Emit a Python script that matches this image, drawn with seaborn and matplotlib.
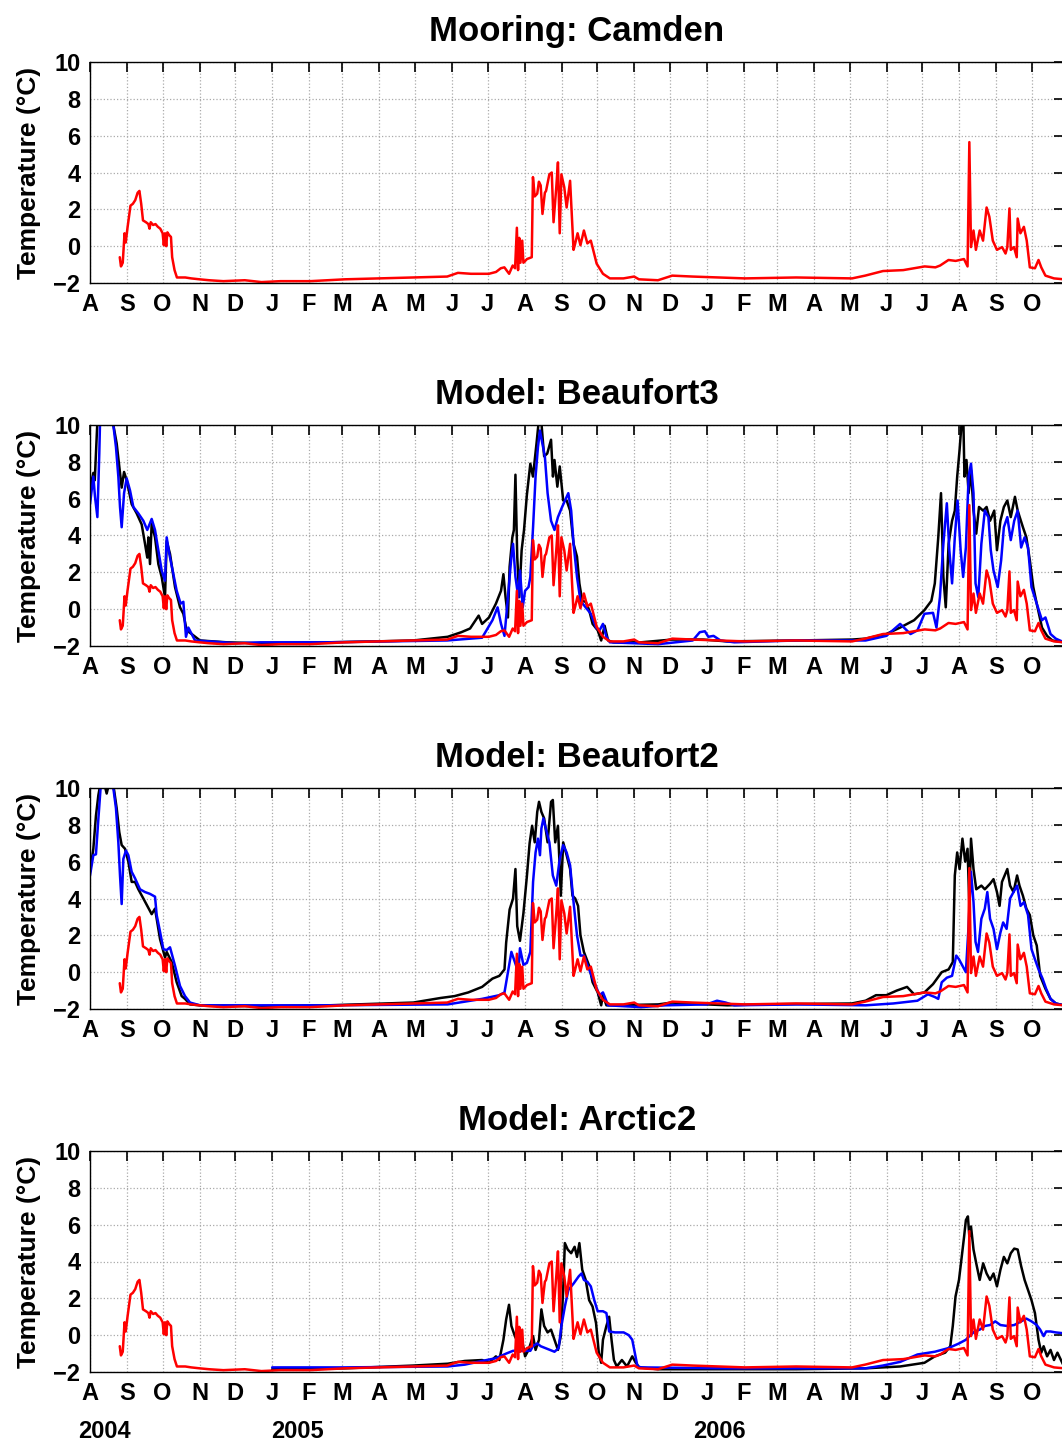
import numpy as np
import pandas as pd
import matplotlib
matplotlib.use("Agg")
import matplotlib.pyplot as plt
import matplotlib.dates as mdates
import seaborn as sns

# day offsets are counted from 1 Aug 2004
START = pd.Timestamp("2004-08-01")
END_DAY = 818

# Camden mooring (observed), red in every panel
camden_day = [25, 26, 27.5, 29, 30, 31.5, 34, 36, 38, 40, 41.5, 43, 44.5, 47, 49, 50, 51, 53, 55, 57,
              59, 61, 62, 63, 64, 65, 66.5, 68, 69, 71, 73, 80, 85, 92, 100, 112, 130, 144, 160, 185,
              214, 243, 272, 300, 309, 320, 335, 341, 345, 348, 352, 355, 357, 358.5, 359.5, 360.5,
              361.5, 363, 364, 367, 371, 372, 373.5, 375.6, 377, 378.5, 380, 382, 383, 385.8, 387.8,
              389.3, 391.6, 393, 394.5, 395.9, 398.3, 400.3, 403.2, 404.6, 406.1, 407.5, 409.5, 411.9,
              414.8, 417.7, 420.6, 422, 425.5, 430.8, 436.6, 448, 457, 461, 477, 489, 506, 550, 593,
              640, 651, 666, 683, 701, 710, 714, 721, 727, 734, 737, 738.5, 739.9, 742, 744, 747.2,
              750, 753, 755.3, 758.2, 761.7, 766, 768.9, 770.4, 772.2, 773.3, 776, 778.3, 779.1,
              781.4, 784.3, 786.7, 789.3, 793.6, 796.6, 798.9, 802.4, 809.6, 818]
camden_temp = [-0.6, -1.1, -0.9, 0.7, 0.2, 1.0, 2.2, 2.3, 2.5, 2.9, 3.0, 2.3, 1.4, 1.3, 1.2, 0.95, 1.3,
               1.15, 1.2, 1.05, 0.95, 0.7, 0.05, 0.7, 0.0, 0.75, 0.6, 0.5, -0.6, -1.3, -1.7, -1.7,
               -1.75, -1.8, -1.85, -1.9, -1.85, -1.95, -1.9, -1.9, -1.8, -1.75, -1.7, -1.65, -1.45,
               -1.5, -1.5, -1.4, -1.2, -1.15, -1.5, -1.05, -1.2, 1.0, -1.3, 0.45, -0.9, 0.3, -0.9,
               -0.7, -0.6, 3.75, 2.7, 2.85, 3.5, 3.3, 1.75, 2.9, 3.0, 3.9, 4.0, 1.3, 3.2, 4.55, 0.7,
               3.9, 3.2, 2.1, 3.55, 1.75, -0.2, 0.15, 0.7, 0.05, 0.85, 0.15, 0.3, -0.05, -0.95, -1.5,
               -1.75, -1.75, -1.65, -1.8, -1.85, -1.6, -1.65, -1.75, -1.7, -1.75, -1.6, -1.35, -1.3,
               -1.1, -1.15, -1.05, -0.75, -0.8, -0.7, -1.1, 5.65, -0.05, 0.85, -0.2, 0.85, 0.3, 2.1,
               1.6, 0.3, -0.2, -0.05, -0.4, -0.05, 2.05, -0.2, -0.05, -0.6, 1.5, 0.7, 1.05, 0.3,
               -1.15, -1.2, -0.75, -1.15, -1.6, -1.75, -1.8]

# Beaufort3 model
b3_black_day = [0, 1.5, 2.8, 4, 5, 6.2, 10, 15, 19.6, 22.4, 25.2, 26.6, 28.6, 30.8, 35, 39.2, 43.4, 46.2,
                48.1, 49, 50.4, 51.8, 54.6, 57.4, 60.2, 63, 64.4, 67.2, 71.4, 75.6, 78.4, 81.2, 85.4,
                92.4, 115, 143, 200, 240, 271.5, 300.4, 311.9, 319.2, 326.4, 329.3, 335.1, 340.9,
                345.2, 347.2, 349, 351, 352.4, 354.7, 356, 357.3, 358.8, 360.5, 362.5, 364.5, 366.9,
                369.8, 372, 375, 377, 379, 381.4, 384, 387.2, 388.8, 390.1, 392.5, 394.5, 397.4,
                400.3, 403.2, 406.1, 409, 411, 413.4, 416.3, 419.2, 422.1, 426.4, 429.3, 432.2, 435.1,
                439.5, 462.7, 488.8, 515, 535, 593, 640, 651.4, 668.8, 680.4, 692.1, 700.8, 706.6,
                709.5, 712.4, 714.7, 716.7, 718.7, 721.1, 724, 726.3, 728.3, 730.3, 732.1, 733.5,
                734.4, 736.1, 737.9, 739.9, 742, 744.3, 746.6, 750.1, 753, 755.9, 759.4, 761.7, 764.6,
                767.5, 770.4, 773.3, 776.8, 779.1, 783.5, 786.4, 789.3, 792.2, 795.1, 799.5, 803.8,
                808.2, 818]
b3_black_temp = [6.3, 7.0, 7.4, 7.0, 8.5, 10.2, 11.5, 11.5, 10, 9.0, 7.4, 6.6, 7.45, 7.0, 5.7, 5.2, 4.6,
                 3.55, 2.8, 3.9, 2.45, 4.65, 3.9, 2.45, 1.75, 0.65, 3.7, 3.0, 1.2, 0.1, -0.25, -1.15,
                 -1.35, -1.7, -1.8, -1.85, -1.8, -1.75, -1.7, -1.5, -1.25, -1.05, -0.35, -0.8, -0.45,
                 0.3, 1.0, 1.9, 0.65, -0.45, 2.3, 3.9, 4.3, 7.3, 2.85, 0.65, 3.2, 4.3, 6.2, 7.9, 7.2,
                 9.0, 10.3, 10.2, 8.3, 8.45, 9.2, 7.2, 8.1, 6.65, 7.75, 5.9, 5.9, 5.35, 3.55, 2.85, 1.4,
                 0.45, 0.4, -0.05, -0.8, -1.15, -1.7, -0.9, -1.7, -1.8, -1.8, -1.65, -1.65, -1.75, -1.7,
                 -1.65, -1.6, -1.35, -1.0, -0.6, -0.05, 0.45, 1.4, 3.9, 6.3, 1.75, 0.1, 3.55, 4.8, 5.35,
                 7.2, 8.65, 10.2, 10.2, 7.2, 8.1, 6.3, 7.55, 5.35, 4.1, 5.55, 5.35, 5.55, 4.8, 5.35,
                 3.2, 4.8, 5.55, 5.9, 5.0, 6.1, 5.35, 4.45, 3.9, 2.65, 1.2, 0.3, -1.0, -1.45, -1.7, -1.8]

b3_blue_day = [0, 2.8, 4.2, 6.2, 7.8, 8.4, 12, 17, 19.6, 21.8, 23.8, 25.2, 26.6, 28.6, 30.8, 33.6, 36.4,
               40.6, 44.8, 48.1, 51.8, 54.6, 57.4, 60.2, 63, 64.4, 66.6, 69.4, 72.8, 76.1, 78.4, 80.6,
               82.6, 85.4, 88.2, 100.8, 123, 143, 200, 250, 300, 329.3, 338, 342.3, 345.2, 348.1, 351,
               353.9, 355.3, 357.3, 359.7, 361.1, 363.4, 365.4, 368.3, 369.8, 372.1, 374.2, 376.2,
               377.9, 379.9, 382, 384.3, 387.2, 390.1, 393, 396.5, 401.7, 404.1, 406.1, 409, 411.9,
               416.3, 420.6, 425, 427.9, 430.8, 433.7, 436.6, 477.2, 506.2, 512.1, 516.4, 519.3, 523.7,
               529.5, 541.1, 593, 651.4, 668.8, 680.4, 689.1, 694.9, 700.8, 708, 710.9, 713.8, 716.7,
               719.6, 721.7, 724, 726.3, 728.6, 731.2, 733.3, 735.6, 737.9, 739.9, 742, 743.7, 746,
               748.6, 751.5, 754.5, 756.5, 758.8, 762.3, 765.2, 767.5, 770.4, 773.3, 776.2, 779.1, 782,
               784.9, 787.8, 790.7, 795.1, 799.5, 802.4, 806.7, 811.1, 818]
b3_blue_temp = [5.7, 7.2, 6.1, 5.0, 8.45, 10.1, 11.5, 11.5, 10, 8.8, 7.2, 5.55, 4.45, 6.3, 7.1, 6.45,
                5.55, 5.2, 4.8, 4.3, 4.9, 4.3, 3.2, 2.1, 1.55, 3.9, 3.0, 2.1, 1.0, 0.3, 0.4, -1.5, -1.0,
                -1.35, -1.7, -1.75, -1.85, -1.8, -1.8, -1.75, -1.7, -1.55, -0.6, 0.1, -0.8, -1.45, 0.65,
                2.85, 3.55, 1.75, 0.65, 2.1, 0.1, 1.0, 1.2, 1.75, 4.45, 7.2, 8.8, 9.7, 9.0, 8.3, 6.3,
                4.8, 4.3, 5.0, 5.55, 6.3, 5.35, 3.55, 1.75, 0.45, 0.1, -0.25, -1.0, -1.15, -0.8, -1.5,
                -1.8, -1.9, -1.7, -1.25, -1.2, -1.5, -1.45, -1.7, -1.8, -1.7, -1.7, -1.45, -0.8, -1.35,
                -1.15, -0.25, -0.2, -1.0, 0.65, 3.55, 5.75, 3.2, 1.4, 3.9, 5.9, 3.2, 1.75, 3.35, 7.2,
                7.9, 6.3, 1.4, 0.65, 3.55, 5.35, 5.0, 3.2, 2.1, 1.2, 2.65, 4.45, 5.0, 3.75, 4.8, 5.35,
                3.35, 3.9, 3.35, 1.2, 0.3, -0.6, -0.45, -1.35, -1.6, -1.8]

# Beaufort2 model
b2_black_day = [0, 2.8, 5, 7, 8.4, 11, 14, 17, 20.2, 22.4, 24.6, 26.6, 29.4, 32.2, 35, 37.8, 40.6, 44.8,
                48.1, 51.8, 54.6, 58.8, 63, 64.4, 68.6, 72.8, 77, 79.8, 84, 92.4, 143, 200, 271.5,
                294.6, 306.2, 317.7, 329.3, 338, 343.8, 348.1, 349.5, 352.4, 355.3, 357.3, 358.8,
                361.1, 364, 366.9, 369.2, 371.3, 373.5, 375.6, 377.1, 379.1, 381.4, 384.3, 387.2,
                388.7, 390.7, 393, 395.4, 397.4, 400.3, 403.2, 405.2, 407.5, 409.9, 411.9, 414.8,
                419.2, 422.1, 426.4, 429.3, 430.8, 433.7, 439.5, 477.2, 488.8, 517.9, 535.3, 564.3,
                639.8, 651.4, 660.1, 668.8, 677.5, 686.2, 692.1, 700.8, 708, 715.3, 721.1, 724.6,
                726.3, 728.3, 730.3, 732.7, 735, 737, 738.5, 739.9, 742, 744.3, 748.6, 751.5, 755.9,
                758.8, 761.7, 763.9, 765.9, 770.4, 772.7, 775.6, 778.6, 780.6, 783.5, 786.4, 789.3,
                792.2, 795.1, 798, 802.4, 806.7, 811.1, 818]
b2_black_temp = [5.45, 6.7, 8.5, 9.6, 10.1, 10.5, 9.7, 10.5, 9.9, 8.9, 7.6, 6.9, 6.7, 6.0, 4.9, 4.9, 4.5,
                 4.0, 3.6, 3.15, 3.45, 1.8, 0.8, 1.1, 0.55, -0.55, -1.3, -1.45, -1.75, -1.8, -1.85, -1.8,
                 -1.65, -1.4, -1.3, -1.1, -0.8, -0.35, -0.2, 0.15, 1.6, 3.4, 4.0, 5.6, 2.5, 1.7, 3.2,
                 5.2, 7.0, 7.95, 7.05, 8.7, 9.25, 8.7, 8.35, 7.05, 9.25, 9.35, 7.05, 7.95, 4.15, 7.05,
                 6.35, 5.6, 4.15, 4.0, 3.6, 2.0, 1.1, 0.35, -0.55, -1.1, -1.8, -1.25, -1.8, -1.8, -1.75,
                 -1.65, -1.75, -1.8, -1.75, -1.7, -1.55, -1.25, -1.25, -1.0, -0.8, -1.2, -1.1, -0.65,
                 0.0, 0.15, 0.55, 5.25, 6.5, 5.6, 7.25, 6.0, 6.7, 3.6, 7.25, 5.6, 4.5, 4.7, 4.5, 4.8,
                 5.05, 4.35, 3.6, 4.9, 5.6, 4.7, 4.35, 5.25, 4.7, 4.15, 3.45, 3.1, 2.0, 1.45, -0.2,
                 -0.9, -1.45, -1.7, -1.8]

b2_blue_day = [0, 2.8, 5, 7, 9, 12, 16, 19.6, 21.8, 23.8, 25.2, 26.6, 28, 30.2, 32.2, 35, 37.8, 42, 46.2,
               50.4, 54.6, 56, 58.8, 61.6, 64.4, 67.2, 71.4, 75.6, 79.8, 84, 92.4, 143, 200, 300.4,
               329.3, 343.8, 348.1, 351, 353.9, 356.8, 359.7, 361.1, 364, 366.9, 369.8, 372.1, 374.2,
               376.2, 377.9, 379.1, 380.8, 382.8, 385.8, 388.7, 391.6, 394.5, 397.4, 400.3, 403.2,
               406.1, 409, 411.9, 414.8, 419.2, 423.5, 427.9, 430.8, 435.1, 462.7, 483, 517.9, 526.6,
               533.8, 541.1, 593.3, 651.4, 674.6, 694.9, 703.7, 709.5, 712.4, 715.3, 719.6, 724,
               727.5, 729.8, 732.7, 735.6, 737.9, 739.9, 742, 743.7, 745.8, 748.6, 751.5, 753.6,
               755.9, 758.8, 761.7, 764.6, 766.9, 769.8, 772.7, 775.6, 778.6, 781.5, 784.4, 787.8,
               790.7, 793.6, 796.6, 800, 803, 806.7, 811.1, 818]
b2_blue_temp = [5.25, 6.35, 6.4, 8.3, 10.1, 10.8, 10.5, 10.0, 8.9, 7.05, 5.25, 3.7, 6.15, 6.6, 6.35, 5.45,
                5.1, 4.5, 4.35, 4.25, 4.1, 3.1, 2.2, 1.25, 1.2, 1.35, 0.35, -0.75, -1.3, -1.65, -1.8,
                -1.8, -1.8, -1.75, -1.45, -1.25, -1.1, 0.0, 1.1, 0.55, 0.0, 1.3, 0.4, 0.5, 1.1, 4.9, 6.5,
                7.25, 6.35, 7.8, 8.35, 7.8, 7.05, 5.25, 4.7, 6.15, 6.9, 6.5, 5.8, 3.8, 2.0, 0.9, 0.9,
                0.15, -0.55, -1.25, -1.1, -1.8, -1.9, -1.8, -1.75, -1.55, -1.65, -1.8, -1.75, -1.8,
                -1.7, -1.55, -1.2, -1.35, -1.45, -0.55, -0.3, -0.2, 0.9, 0.7, 0.35, 0.0, 2.55, 5.45,
                3.8, 1.65, 1.1, 2.9, 3.45, 4.35, 2.9, 2.35, 1.25, 2.15, 2.7, 2.35, 4.0, 4.35, 4.7, 3.6,
                3.8, 3.1, 1.25, 0.7, 0.15, -0.35, -0.9, -1.45, -1.7, -1.8]

# Arctic2 model (starts Jan 2005)
a2_black_day = [153, 214, 271.5, 300.4, 314.8, 329.3, 335.1, 340.9, 343.8, 347.2, 349.5, 351.9, 353.9,
                356.8, 359.7, 362.5, 365.4, 368.3, 372.1, 374.2, 377.1, 379.1, 381.4, 384.3, 387.2,
                390.1, 393, 395.4, 397.4, 398.8, 401.2, 404.1, 407, 409, 411, 413.4, 416.3, 419.2,
                422.1, 425, 427.3, 429.3, 430.8, 433.7, 436, 438, 440, 442.4, 446.7, 451, 455.4, 458.4,
                461.3, 477, 535.3, 593.3, 651.4, 680.4, 700.8, 709.5, 718.2, 722.5, 724.6, 726.9,
                729.8, 732.1, 734.1, 735.6, 737.3, 738.5, 739.9, 742, 744.3, 747.2, 750.1, 753, 755.9,
                758.8, 761.7, 764.6, 767.5, 770.4, 773.3, 776.2, 779.1, 782, 784.9, 787.8, 790.7,
                793.6, 796.6, 798.9, 800.9, 803.8, 806.7, 809.6, 812.5, 818]
a2_black_temp = [-1.85, -1.8, -1.65, -1.55, -1.4, -1.35, -1.5, -1.15, -1.35, -0.25, 0.85, 1.65, 0.5, -0.05,
                 -0.45, -0.15, -1.15, -0.8, -0.05, -0.8, -0.25, 1.4, 0.5, 0.15, 0.3, -0.25, -0.8, -0.05,
                 2.45, 5.0, 4.65, 4.45, 4.8, 4.25, 5.0, 3.55, 3.0, 1.9, 1.55, 0.65, -0.95, -1.5, -0.25,
                 0.5, 1.0, -0.25, -1.35, -1.7, -1.35, -1.7, -1.15, -1.5, -1.75, -1.85, -1.85, -1.85,
                 -1.8, -1.7, -1.5, -1.15, -0.95, -0.6, 0.5, 2.1, 3.0, 4.25, 5.35, 6.25, 6.45, 5.35, 5.9,
                 4.65, 3.9, 3.0, 3.9, 3.35, 3.0, 3.35, 2.65, 3.55, 4.25, 3.9, 4.45, 4.7, 4.65, 3.75, 3.0,
                 2.45, 1.9, 1.2, -0.25, -0.95, -0.6, -1.15, -0.8, -1.35, -0.95, -1.7]

a2_blue_day = [153, 214, 300.4, 314.8, 329.3, 340.9, 349.5, 355.3, 364, 369.8, 372, 375.6, 378.5, 384.3,
               390.1, 393.6, 395.9, 398.8, 401.7, 406.1, 410.5, 412.8, 414.8, 417.7, 420.6, 423.5, 426.4,
               430.8, 433.7, 436, 440.9, 448.2, 452.5, 455.4, 459.8, 463, 535, 593.3, 651.4, 665.9,
               680.4, 694.9, 709.5, 721.1, 729.8, 735.6, 738.5, 742.9, 747.2, 751.5, 755.9, 760.3,
               764.6, 770.4, 776.2, 782, 786.4, 790.7, 795.1, 798, 800.9, 803, 806.7, 811, 818]
a2_blue_temp = [-1.75, -1.75, -1.7, -1.6, -1.4, -1.25, -1.0, -0.85, -0.85, -0.85, -0.6, -0.45, -0.6, -0.75,
                -0.9, -0.7, 0.5, 1.55, 2.45, 2.8, 3.2, 3.35, 3.0, 2.9, 2.65, 1.9, 1.3, 1.3, 1.2, 0.2, 0.15,
                0.15, 0.0, -0.25, -1.7, -1.75, -1.8, -1.8, -1.8, -1.65, -1.45, -1.05, -0.9, -0.7, -0.45,
                -0.25, -0.05, 0.2, 0.3, 0.5, 0.55, 0.75, 0.55, 0.5, 0.55, 0.75, 0.9, 0.75, 0.55, 0.3,
                -0.05, 0.2, 0.2, 0.15, 0.1]

titles = ["Mooring: Camden", "Model: Beaufort3", "Model: Beaufort2", "Model: Arctic2"]
year_labels = ["2004", "2005", "2006"]
year_label_day = [12, 174, 529]


def to_frame(days, temps):
    return pd.DataFrame({"date": START + pd.to_timedelta(days, unit="D"), "temp": temps})


camden = to_frame(camden_day, camden_temp)
models = [
    [],
    [(to_frame(b3_black_day, b3_black_temp), "black"), (to_frame(b3_blue_day, b3_blue_temp), "blue")],
    [(to_frame(b2_black_day, b2_black_temp), "black"), (to_frame(b2_blue_day, b2_blue_temp), "blue")],
    [(to_frame(a2_black_day, a2_black_temp), "black"), (to_frame(a2_blue_day, a2_blue_temp), "blue")],
]

sns.set_style("white")
plt.rcParams["font.family"] = ["Liberation Sans", "DejaVu Sans"]
plt.rcParams["font.weight"] = "bold"
plt.rcParams["text.color"] = "black"
plt.rcParams["axes.labelcolor"] = "black"
plt.rcParams["xtick.color"] = "black"
plt.rcParams["ytick.color"] = "black"

fig = plt.figure(figsize=(10.62, 14.44), dpi=100)
W, H = 1062.0, 1444.0
ax_left, ax_right = 90, 1064
panel_tops = [62, 425, 788, 1151]
panel_h = 221

xmin = START
xmax = START + pd.Timedelta(days=END_DAY)

axes = []
for i, top in enumerate(panel_tops):
    ax = fig.add_axes([ax_left / W, (H - top - panel_h) / H, (ax_right - ax_left) / W, panel_h / H])
    axes.append(ax)

    for df, col in models[i]:
        sns.lineplot(data=df, x="date", y="temp", color=col, lw=1.8, estimator=None,
                     sort=False, ax=ax)
    sns.lineplot(data=camden, x="date", y="temp", color="red", lw=1.8, estimator=None,
                 sort=False, ax=ax)

    ax.set_xlim(xmin, xmax)
    ax.set_ylim(-2, 10)
    ax.set_yticks(np.arange(-2, 11, 2))
    ax.xaxis.set_major_locator(mdates.MonthLocator())
    ax.xaxis.set_major_formatter(
        matplotlib.ticker.FuncFormatter(lambda v, pos: mdates.num2date(v).strftime("%b")[0]))
    ax.tick_params(axis="both", which="major", direction="in", length=7, width=1.2,
                   labelsize=17, top=True, right=True, color="black", labelcolor="black")
    ax.tick_params(axis="x", pad=7)
    ax.tick_params(axis="y", pad=7)
    ax.grid(True, linestyle=":", color="#aaaaaa", lw=0.9)
    for s in ax.spines.values():
        s.set_color("black")
        s.set_linewidth(1.0)
    ax.set_xlabel("")
    ax.set_ylabel("Temperature (°C)", fontsize=19, fontweight="bold", color="black")
    ax.yaxis.set_label_coords(-0.050, 0.5)
    ax.set_title(titles[i], fontsize=25, fontweight="bold", pad=15, color="black")

# year labels under the last panel
for lab, d in zip(year_labels, year_label_day):
    axes[-1].text(START + pd.Timedelta(days=d), -0.27, lab, fontsize=17, fontweight="bold",
                  color="black", ha="center", va="center",
                  transform=axes[-1].get_xaxis_transform())

fig.savefig("out.png", dpi=100)
